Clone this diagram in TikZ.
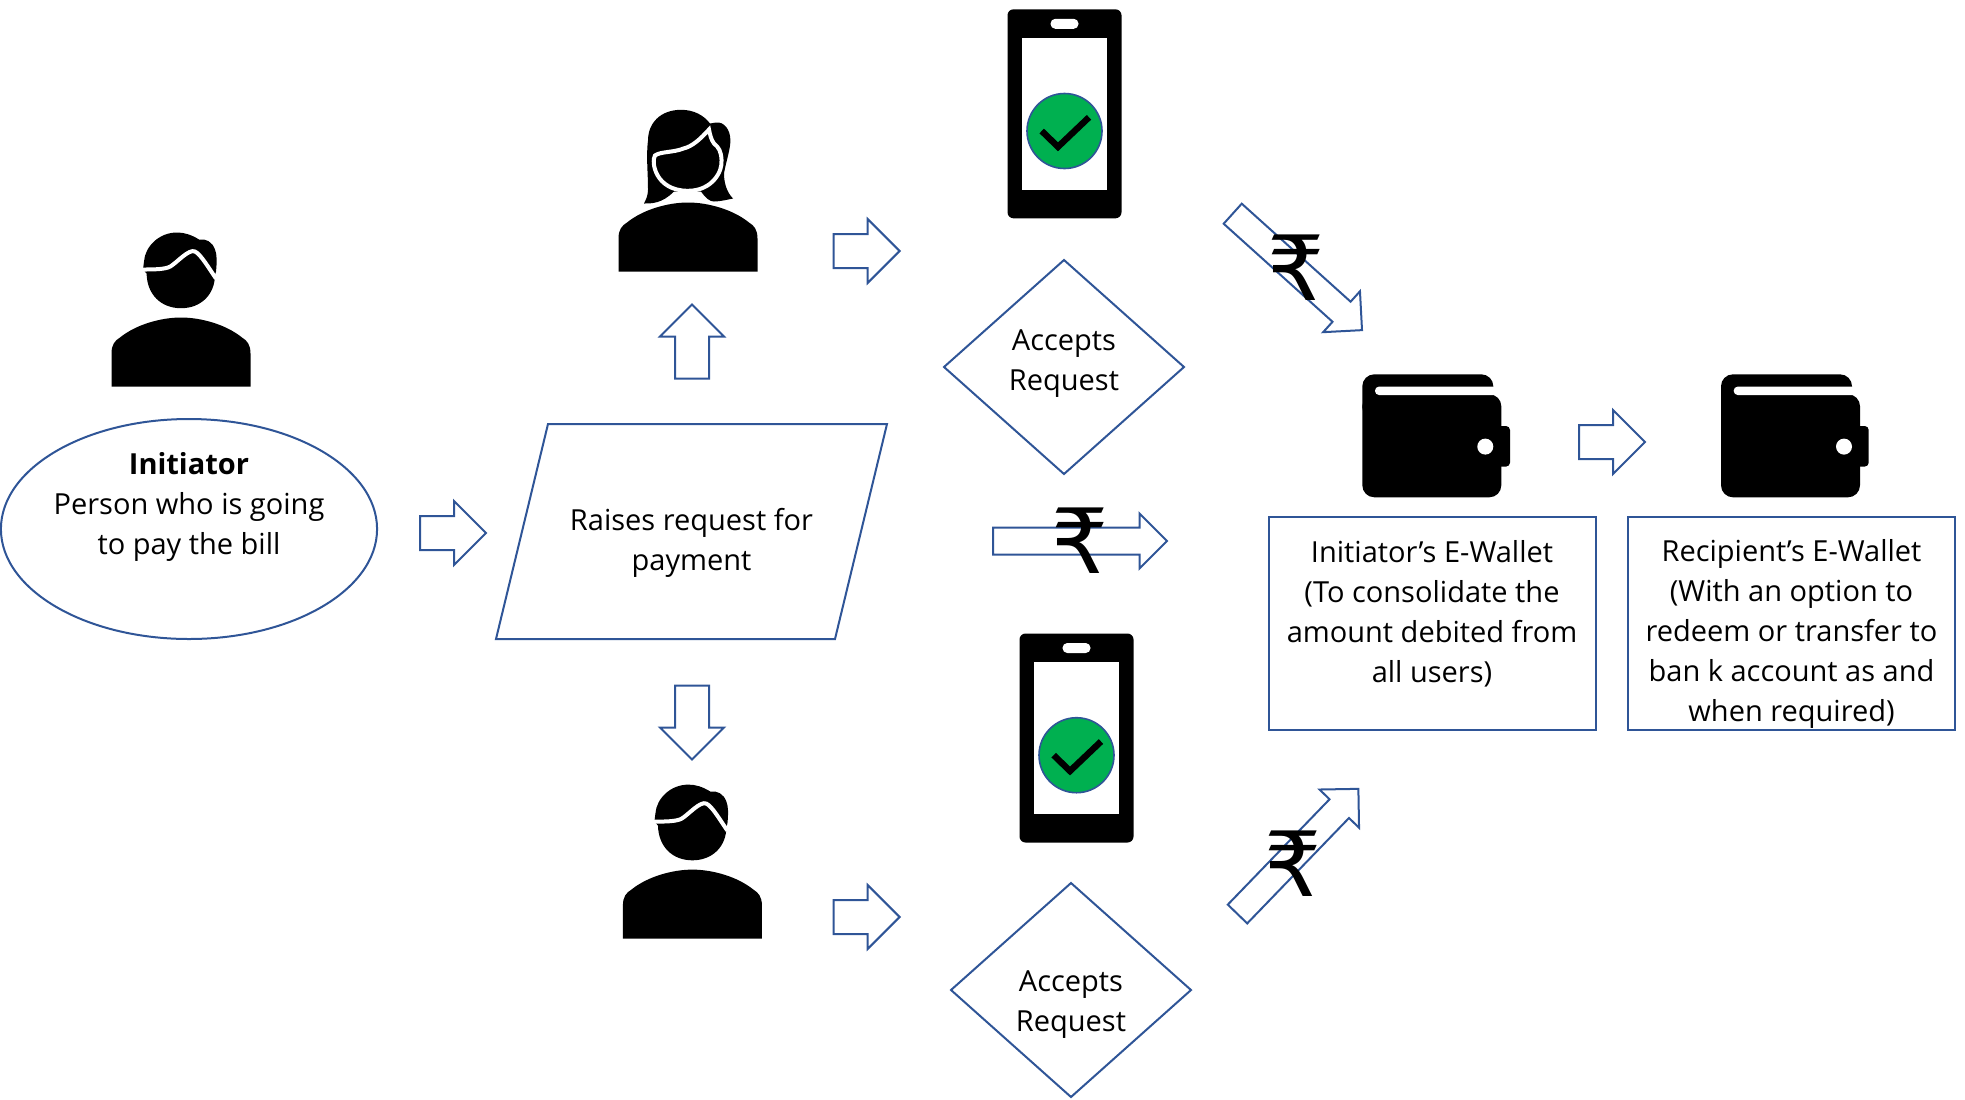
\documentclass[tikz,border=0pt]{standalone}
\usepackage{fontspec}
\usepackage{xcolor}
\usetikzlibrary{shapes.geometric,shapes.arrows}
\setmainfont{Open Sans}
\newfontfamily\rupeefont{DejaVu Sans}
\definecolor{flowblue}{HTML}{2F5597}
\definecolor{tickgreen}{HTML}{00B050}
\newcommand{\padbelow}[1]{\rule[-#1]{0pt}{#1}}
\newcommand{\padabove}[1]{\rule{0pt}{#1}}
\tikzset{
    flowshape/.style={draw=flowblue, line width=1pt, inner sep=0pt, outer sep=0pt, align=center,
        font=\fontsize{14.5pt}{20pt}\selectfont},
    blockarrow/.style={shape=single arrow, draw=flowblue, line width=1pt, inner xsep=0pt, outer sep=0pt, anchor=tail,
        single arrow tip angle=90, single arrow head indent=0pt},
    shortarrow/.style={blockarrow, inner ysep=8pt, minimum width=31.5pt, single arrow head extend=7.5pt, minimum height=33pt},
    tallarrow/.style={shortarrow, minimum height=37pt},
    longarrow/.style={blockarrow, inner ysep=6.25pt, minimum width=27pt, single arrow head extend=7pt, minimum height=87pt},
    acceptsbox/.style={flowshape, shape=diamond, minimum width=120pt, minimum height=107pt, aspect=1.12},
    walletbox/.style={flowshape, shape=rectangle, minimum width=163.5pt, minimum height=106.5pt},
    rupee/.style={inner sep=0pt, font=\rupeefont\fontsize{45pt}{45pt}\selectfont},
    shouldericon/.pic={
        \fill (-69.5,0) -- (-69.5,-33) .. controls (-69.5,-42) and (-66,-46) .. (-61,-49)
            .. controls (-45,-62) and (-20,-69) .. (0,-69) .. controls (20,-69) and (45,-62) .. (61,-49)
            .. controls (66,-46) and (69.5,-42) .. (69.5,-33) -- (69.5,0) -- cycle;
    },
    maleicon/.pic={
        \pic {shouldericon};
        \fill (-34.4,-113) .. controls (-34,-92) and (-20,-78.3) .. (0,-78.3) .. controls (20,-78.3) and (34,-92) .. (34,-112)
            -- (35,-115) .. controls (36,-125) and (36,-132) .. (34,-137) .. controls (31,-145) and (25,-148) .. (18,-147)
            .. controls (10,-152) and (3,-154) .. (-4,-154) .. controls (-22,-154) and (-36,-140) .. (-37,-125) -- (-38,-117) -- cycle;
        \draw[white, line width=2pt] (-39,-117) .. controls (-28,-117) and (-16,-117) .. (-10.7,-120)
            .. controls (-4,-124) and (8,-138) .. (14,-135) .. controls (20,-132) and (28,-118) .. (35,-108);
    },
    femaleicon/.pic={
        \pic {shouldericon};
        \fill (-6.7,-161.7) .. controls (-28,-161.7) and (-40,-148) .. (-40,-131) .. controls (-42,-115) and (-40,-100) .. (-40,-82)
            .. controls (-40,-76) and (-42,-72) .. (-44,-68) .. controls (-36,-68) and (-26,-68) .. (-14,-80)
            -- (13,-80) .. controls (18,-73) and (22,-70) .. (26,-70) .. controls (32,-70) and (40,-72) .. (45,-73)
            .. controls (38,-80) and (36,-90) .. (36,-98) .. controls (38,-110) and (42.4,-122) .. (42.4,-131)
            .. controls (42.4,-142) and (36,-150) .. (28,-149) -- (22,-148) .. controls (16,-156) and (6,-161.7) .. (-6.7,-161.7) -- cycle;
        \draw[white, fill=black, line width=2pt] (21,-142) .. controls (12,-132) and (4,-125) .. (-4.5,-123)
            .. controls (-14,-119) and (-28,-120) .. (-33,-116) .. controls (-37,-110) and (-33,-80.7) .. (0,-80.7)
            .. controls (24,-80.7) and (35,-100) .. (33.5,-112) .. controls (33,-120) and (31,-124) .. (26,-128) .. controls (23,-132) and (22,-137) .. (21,-142) -- cycle;
    },
    phoneicon/.pic={
        \fill[rounded corners=3pt] (-57,-104.5) rectangle (57,104.5);
        \fill[white] (-42.5,-76) rectangle (42.5,76);
        \fill[white, rounded corners=2.4pt] (-14,-95) rectangle (14,-85);
        \draw[flowblue, fill=tickgreen, line width=0.8pt] (0,17.2) circle[radius=37.5];
        \draw[line width=3.2pt] (-22.8,17.2) -- (-6.5,33) -- (24.5,3.5);
    },
    walleticon/.pic={
        \fill[rounded corners=6pt] (0,0) rectangle (131,45);
        \fill[rounded corners=6pt] (0,20) rectangle (139,123);
        \fill[rounded corners=2pt] (130,51.7) rectangle (147.7,92.3);
        \fill[white, rounded corners=2pt] (12.7,12.3) rectangle (139,20.7);
        \fill[white] (123,72.3) circle[radius=8];
    },
}

\begin{document}
\begin{tikzpicture}[x=0.5pt, y=-0.5pt]
    \useasboundingbox (0,0) rectangle (1965,1099);

    \node[flowshape, shape=ellipse, inner xsep=-1.2pt, minimum width=188pt, minimum height=110pt] (initiator) at (189,529)
        {\textbf{Initiator}\\Person who is going\\to pay the bill\padbelow{25.6pt}};
    \node[flowshape, shape=trapezium, trapezium left angle=76.4, trapezium right angle=103.6, trapezium stretches body=true,
        minimum width=195.5pt] (request) at (691.5,531.5)
        {\padabove{53.15pt}Raises request for\\payment\padbelow{34.35pt}};
    \node[acceptsbox] (acceptsTop) at (1064,367) {Accepts\\Request\padbelow{6.9pt}};
    \node[acceptsbox] (acceptsBottom) at (1071,990) {\padabove{24.5pt}Accepts\\Request};
    \node[walletbox] (initiatorWallet) at (1432,623.5)
        {Initiator’s E-Wallet\\(To consolidate the\\amount debited from\\all users)\padbelow{12pt}};
    \node[walletbox] (recipientWallet) at (1791.5,623.5)
        {\padabove{21.5pt}Recipient’s E-Wallet\\(With an option to\\redeem or transfer to\\ban k account as and\\when required)};

    \pic (initiatorIcon) at (181,386.5) {maleicon};
    \pic (femaleIcon) at (688,271.5) {femaleicon};
    \pic (maleIcon) at (692.4,938.6) {maleicon};
    \pic (phoneTop) at (1064.5,113.8) {phoneicon};
    \pic (phoneBottom) at (1076.5,738) {phoneicon};
    \pic (initiatorPurse) at (1362.3,374.3) {walleticon};
    \pic (recipientPurse) at (1721,374.3) {walleticon};

    \node[shortarrow] (arrowRequest) at (420,533) {};
    \node[tallarrow, rotate=90] (arrowUp) at (692,378.5) {};
    \node[tallarrow, rotate=-90] (arrowDown) at (692,685.5) {};
    \node[shortarrow] (arrowPhoneTop) at (833.6,251) {};
    \node[shortarrow] (arrowPhoneBottom) at (833.6,917) {};
    \node[shortarrow] (arrowRecipient) at (1579,442) {};
    \node[longarrow, rotate=-42] (payTop) at (1232.7,213.7) {};
    \node[longarrow] (payMiddle) at (993,541) {};
    \node[longarrow, rotate=46] (payBottom) at (1237.5,914) {};

    \node[rupee] (rupeeTop) at (1296.3,268) {₹};
    \node[rupee] (rupeeMiddle) at (1079.7,540.8) {₹};
    \node[rupee] (rupeeBottom) at (1293.3,864) {₹};
\end{tikzpicture}
\end{document}
